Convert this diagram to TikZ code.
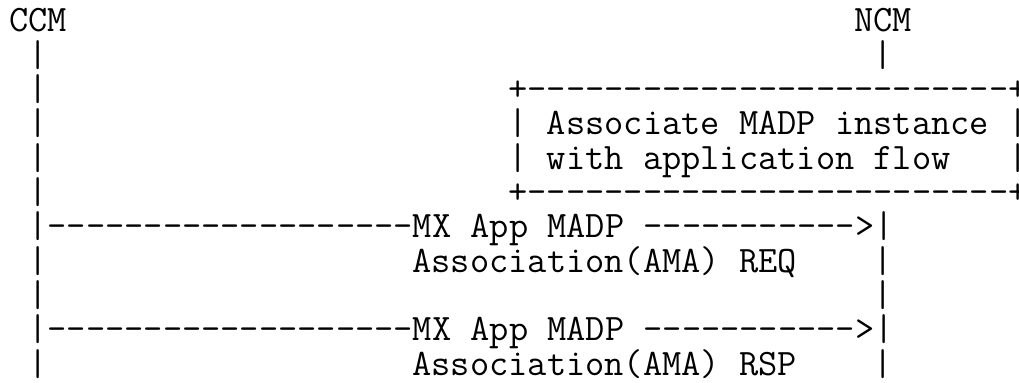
\documentclass[tikz,border=0pt]{standalone}
\usepackage{fontspec}
\begin{document}
\begin{tikzpicture}[ascii/.style={anchor=base west,inner sep=0pt,font=\ttfamily\fontsize{28.1}{30}\selectfont}]
  \useasboundingbox (0bp,0bp) rectangle (764.25bp,287.25bp);
  \node (CCM) at (6.75bp,263.25bp) [ascii] {CCM};
  \node (NCM) at (640.35bp,263.25bp) [ascii] {NCM};
  \node (CCMLineA) at (21.15bp,237.53bp) [ascii] {|};
  \node (NCMLineA) at (654.75bp,237.53bp) [ascii] {|};
  \node (CCMLineB) at (21.15bp,211.8bp) [ascii] {|};
  \node (BoxTop) at (381.15bp,211.8bp) [ascii] {+-------------------------+};
  \node (CCMLineC) at (21.15bp,186.08bp) [ascii] {|};
  \node (BoxLineA) at (381.15bp,186.08bp) [ascii] {| Associate MADP instance |};
  \node (CCMLineD) at (21.15bp,160.35bp) [ascii] {|};
  \node (BoxLineB) at (381.15bp,160.35bp) [ascii] {| with application flow\ \ \ |};
  \node (CCMLineE) at (21.15bp,134.63bp) [ascii] {|};
  \node (BoxBottom) at (381.15bp,134.63bp) [ascii] {+-------------------------+};
  \node (ReqArrow) at (21.15bp,108.9bp) [ascii] {|-------------------MX App MADP ----------->|};
  \node (CCMLineF) at (21.15bp,83.18bp) [ascii] {|};
  \node (ReqLabel) at (309.15bp,83.18bp) [ascii] {Association(AMA) REQ};
  \node (NCMLineB) at (654.75bp,83.18bp) [ascii] {|};
  \node (CCMLineG) at (21.15bp,57.45bp) [ascii] {|};
  \node (NCMLineC) at (654.75bp,57.45bp) [ascii] {|};
  \node (RspArrow) at (21.15bp,31.73bp) [ascii] {|-------------------MX App MADP ----------->|};
  \node (CCMLineH) at (21.15bp,6.0bp) [ascii] {|};
  \node (RspLabel) at (309.15bp,6.0bp) [ascii] {Association(AMA) RSP};
  \node (NCMLineD) at (654.75bp,6.0bp) [ascii] {|};
\end{tikzpicture}
\end{document}
